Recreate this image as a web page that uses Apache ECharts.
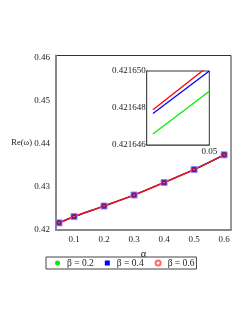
<!DOCTYPE html>
<html>
<head>
<meta charset="utf-8">
<script src="https://cdn.jsdelivr.net/npm/echarts@6/dist/echarts.min.js"></script>
<style>html,body{margin:0;padding:0;background:#fff;}#c{width:249px;height:323px;}</style>
</head>
<body>
<div id="c"></div>
<script>
var alphaValues = [0.05, 0.1, 0.2, 0.3, 0.4, 0.5, 0.6];
var reBeta02 = [0.421649, 0.42310, 0.42555, 0.42810, 0.43100, 0.43400, 0.43740];
var reBeta04 = [0.421650, 0.42310, 0.42555, 0.42810, 0.43100, 0.43400, 0.43740];
var reBeta06 = [0.421650, 0.42310, 0.42555, 0.42810, 0.43100, 0.43400, 0.43740];
var xTicks = [0.1, 0.2, 0.3, 0.4, 0.5, 0.6];
var yTicks = [0.42, 0.43, 0.44, 0.45, 0.46];

var insetAlpha = [0.04991, 0.05];
var insetBeta02 = [0.4216466, 0.4216489];
var insetBeta04 = [0.4216477, 0.4216500];
var insetBeta06 = [0.4216479, 0.4216503];
var insetYTicks = [0.421646, 0.421648, 0.42165];
var insetXTicks = [0.05];

var seriesNames = ['β = 0.2', 'β = 0.4', 'β = 0.6'];
var colors = ['#00ee00', '#0000ff', '#ff0000'];
var FONT = '"Liberation Serif", "DejaVu Serif", serif';

function pairs(xs, ys) { return xs.map(function (x, i) { return [x, ys[i]]; }); }

var chart = echarts.init(document.getElementById('c'), null, {renderer: 'canvas'});
chart.setOption({
  animation: false,
  backgroundColor: '#fff',
  grid: [
    {left: 56, right: 18, top: 55.5, bottom: 93, show: true, borderColor: '#333', borderWidth: 1, containLabel: false},
    {left: 146.7, width: 62.6, top: 71, height: 74, show: true, borderColor: '#333', borderWidth: 1, backgroundColor: '#fff', containLabel: false, z: 5}
  ],
  legend: {
    data: [
      {name: seriesNames[0], icon: 'circle', itemStyle: {color: '#00ee00', borderWidth: 0}},
      {name: seriesNames[1], icon: 'rect', itemStyle: {color: '#0000ff', borderWidth: 0}},
      {name: seriesNames[2], icon: 'emptyCircle', itemStyle: {color: '#ff6666', borderColor: '#ff6666', borderWidth: 0.8}}
    ],
    left: 46, top: 257,
    borderColor: '#444', borderWidth: 1, padding: [1, 2, 1, 9],
    itemWidth: 5, itemHeight: 5, itemGap: 11,
    textStyle: {fontFamily: FONT, fontSize: 9.5, color: '#222', padding: [0, 0, 0, 2]}
  },
  graphic: [
    {type: 'text', right: 217, top: 138.5, style: {text: 'Re(ω)', font: '8.5px ' + FONT, fill: '#222'}}
  ],
  xAxis: [
    {
      gridIndex: 0, type: 'value', min: 0.04, max: 0.623,
      name: 'α', nameLocation: 'middle', nameGap: 12,
      nameTextStyle: {fontFamily: FONT, fontSize: 10.5, color: '#222'},
      axisLine: {show: true, lineStyle: {color: '#888', width: 2}},
      axisTick: {show: false},
      splitLine: {show: false},
      axisLabel: {customValues: xTicks, fontFamily: FONT, fontSize: 9, color: '#222', margin: 5,
        formatter: function (v) { return String(+v.toFixed(2)); }}
    },
    {
      gridIndex: 1, type: 'value', min: 0.0499, max: 0.05,
      axisLine: {show: true, lineStyle: {color: '#666', width: 1.5}},
      axisTick: {show: false},
      splitLine: {show: false},
      axisLabel: {customValues: insetXTicks, fontFamily: FONT, fontSize: 9, color: '#222', margin: 2,
        formatter: function (v) { return String(+v.toFixed(2)); }}
    }
  ],
  yAxis: [
    {
      gridIndex: 0, type: 'value', min: 0.42, max: 0.4604,
      axisLine: {show: true, lineStyle: {color: '#888', width: 2}},
      axisTick: {show: false},
      splitLine: {show: false},
      axisLabel: {customValues: yTicks, fontFamily: FONT, fontSize: 9, color: '#222', margin: 6,
        formatter: function (v) { return String(+v.toFixed(2)); }}
    },
    {
      gridIndex: 1, type: 'value', min: 0.421646, max: 0.42165,
      axisLine: {show: true, lineStyle: {color: '#666', width: 1.5}},
      axisTick: {show: false},
      splitLine: {show: false},
      axisLabel: {customValues: insetYTicks, fontFamily: FONT, fontSize: 9, color: '#222', margin: 1,
        formatter: function (v) { return v.toFixed(6); }}
    }
  ],
  series: [
    {name: seriesNames[0], type: 'line', xAxisIndex: 0, yAxisIndex: 0, data: pairs(alphaValues, reBeta02),
      smooth: 0.3, symbol: 'circle', symbolSize: 5, color: colors[0], lineStyle: {width: 1.2, color: colors[0]}},
    {name: seriesNames[1], type: 'line', xAxisIndex: 0, yAxisIndex: 0, data: pairs(alphaValues, reBeta04),
      smooth: 0.3, symbol: 'rect', symbolSize: 6, color: colors[1], itemStyle: {color: '#3a2ad8', borderColor: '#8c8cff', borderWidth: 1}, lineStyle: {width: 1.2, color: colors[1]}},
    {name: seriesNames[2], type: 'line', xAxisIndex: 0, yAxisIndex: 0, data: pairs(alphaValues, reBeta06),
      smooth: 0.3, symbol: 'emptyCircle', symbolSize: 3, color: colors[2], itemStyle: {color: '#a01050', borderColor: '#cc1030', borderWidth: 1}, lineStyle: {width: 1.6, color: '#f01020'}},
    {name: seriesNames[0], type: 'line', xAxisIndex: 1, yAxisIndex: 1, data: pairs(insetAlpha, insetBeta02),
      showSymbol: false, symbol: 'none', color: colors[0], lineStyle: {width: 1.3, color: colors[0]}, z: 6},
    {name: seriesNames[1], type: 'line', xAxisIndex: 1, yAxisIndex: 1, data: pairs(insetAlpha, insetBeta04),
      showSymbol: false, symbol: 'none', color: colors[1], lineStyle: {width: 1.3, color: colors[1]}, z: 6},
    {name: seriesNames[2], type: 'line', xAxisIndex: 1, yAxisIndex: 1, data: pairs(insetAlpha, insetBeta06),
      showSymbol: false, symbol: 'none', color: colors[2], lineStyle: {width: 1.3, color: colors[2]}, z: 6}
  ]
});
</script>
</body>
</html>
